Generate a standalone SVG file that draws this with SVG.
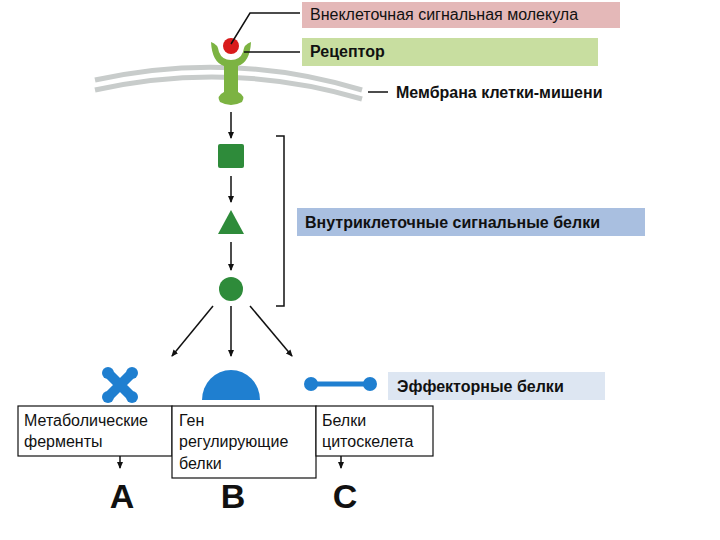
<svg xmlns="http://www.w3.org/2000/svg" width="720" height="540" viewBox="0 0 720 540">
<style>
.t{font-family:"Liberation Sans",Arial,sans-serif;font-size:16px;fill:#111}
.b{font-weight:bold}
.c{stroke:#111;stroke-width:1.5;fill:none}
.box{fill:#fff;stroke:#111;stroke-width:1.2}
.g{fill:#2e8b3a}
.bl{fill:#1f7fd0}
.L{font-family:"Liberation Sans",Arial,sans-serif;font-size:34px;font-weight:bold;fill:#111}
</style>
<defs><marker id="a" markerWidth="8" markerHeight="8" refX="6" refY="4" orient="auto" markerUnits="userSpaceOnUse"><path d="M0,1 L7,4 L0,7 Z" fill="#111"/></marker></defs>
<rect width="720" height="540" fill="#fff"/>
<g id="membrane">
<path d="M95,80 Q230,50 362,90" stroke="#c8cccb" stroke-width="5" fill="none"/>
<path d="M95,90 Q230,60 362,99" stroke="#c8cccb" stroke-width="5" fill="none"/>
</g>
<g id="labels">
<rect x="302" y="2" width="318" height="26" fill="#e4b8b8"/>
<text class="t" x="310" y="20">Внеклеточная сигнальная молекула</text>
<rect x="302" y="38" width="296" height="28" fill="#c8dea0"/>
<text class="t b" x="310" y="57">Рецептор</text>
<text class="t b" x="396" y="98">Мембрана клетки-мишени</text>
<rect x="297" y="208" width="348" height="28" fill="#a9bfe0"/>
<text class="t b" x="305" y="228">Внутриклеточные сигнальные белки</text>
<rect x="388" y="372" width="217" height="28" fill="#dde6f2"/>
<text class="t b" x="397" y="392">Эффекторные белки</text>
</g>
<g id="receptor">
<path d="M211,42 Q212,62 224,66 L224,92 Q216,96 220,102 Q231,108 242,102 Q246,96 238,92 L238,66 Q250,62 251,42 Q244,44 243,52 Q240,60 231,60 Q222,60 219,52 Q218,44 211,42 Z" fill="#7cb342"/>
<circle cx="231" cy="46" r="8" fill="#d81b1b"/>
</g>
<g id="connectors">
<path class="c" d="M231,44 L250,13 L300,13"/>
<path class="c" d="M244,52 L300,52"/>
<path class="c" d="M368,92 L388,92"/>
<path class="c" d="M231,112 L231,138" marker-end="url(#a)"/>
<path class="c" d="M231,176 L231,202" marker-end="url(#a)"/>
<path class="c" d="M231,242 L231,270" marker-end="url(#a)"/>
<path class="c" d="M276,136 L284,136 L284,306 L276,306"/>
<path class="c" d="M213,306 L172,356" marker-end="url(#a)"/>
<path class="c" d="M231,306 L231,356" marker-end="url(#a)"/>
<path class="c" d="M250,306 L292,356" marker-end="url(#a)"/>
<path class="c" d="M120,456 L120,468" marker-end="url(#a)"/>
<path class="c" d="M341,456 L341,468" marker-end="url(#a)"/>
</g>
<g id="square"><rect class="g" x="218" y="144" width="26" height="24" rx="2"/></g>
<g id="triangle"><path class="g" d="M231,210 L244,234 L218,234 Z"/></g>
<g id="circle"><circle class="g" cx="231" cy="289" r="12"/></g>
<g id="cross">
<path d="M110,375 L130,395 M130,375 L110,395" stroke="#1f7fd0" stroke-width="10"/>
<circle class="bl" cx="108" cy="373" r="6"/><circle class="bl" cx="132" cy="373" r="6"/>
<circle class="bl" cx="108" cy="397" r="6"/><circle class="bl" cx="132" cy="397" r="6"/>
</g>
<g id="dome"><path class="bl" d="M202,400 A29,30 0 0 1 260,400 Z"/></g>
<g id="dumbbell">
<path d="M310,384 L370,384" stroke="#1f7fd0" stroke-width="5"/>
<circle class="bl" cx="311" cy="384" r="7"/><circle class="bl" cx="370" cy="384" r="7"/>
</g>
<g id="box1"><rect class="box" x="18" y="406" width="154" height="50"/>
<text class="t" x="24" y="426">Метаболические</text><text class="t" x="24" y="447">ферменты</text></g>
<g id="box2"><rect class="box" x="172" y="406" width="144" height="72"/>
<text class="t" x="179" y="426">Ген</text><text class="t" x="179" y="447">регулирующие</text><text class="t" x="179" y="469">белки</text></g>
<g id="box3"><rect class="box" x="316" y="406" width="117" height="50"/>
<text class="t" x="322" y="426">Белки</text><text class="t" x="322" y="447">цитоскелета</text></g>
<g id="letters">
<text class="L" x="122" y="508" text-anchor="middle">A</text>
<text class="L" x="233" y="508" text-anchor="middle">B</text>
<text class="L" x="345" y="508" text-anchor="middle">C</text>
</g>
</svg>
